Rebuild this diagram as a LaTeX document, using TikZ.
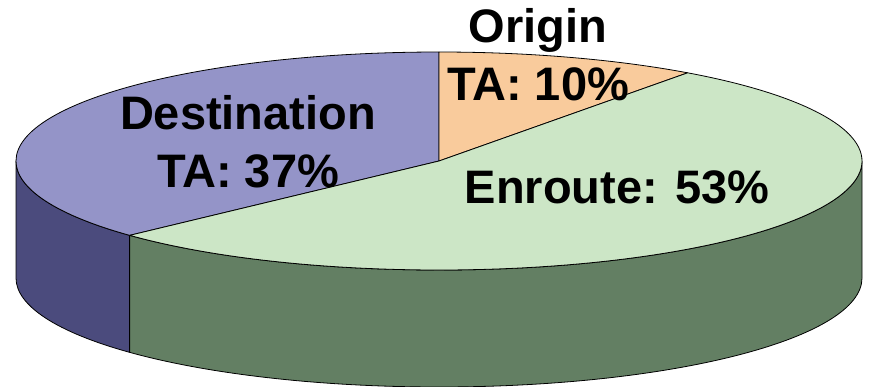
\documentclass[tikz,border=0pt]{standalone}
\usepackage{fontspec}
\setmainfont{Liberation Sans}
\usepackage{tikz}

\definecolor{destTop}{HTML}{9494C8}
\definecolor{destSide}{HTML}{4B4B7D}
\definecolor{origTop}{HTML}{F9CB9C}
\definecolor{enrTop}{HTML}{CCE6C6}
\definecolor{enrSide}{HTML}{637F63}

\begin{document}
\begin{tikzpicture}[x=1pt, y=1pt,
				   slice/.style={draw=black, line width=0.8pt, line join=round},
				   rim/.style={x radius=423, y radius=109},
				   lbl/.style={font=\fontsize{47}{58}\selectfont\bfseries, align=center, inner sep=0pt, anchor=base}]
\useasboundingbox (0,-386) rectangle (869,0);
\coordinate (c) at (439,-161);
% side walls
\draw[slice, fill=destSide] ([shift={(180:423 and 109)}]c) arc[rim, start angle=180, end angle=223]
	-- ++(0,-117) arc[rim, start angle=223, end angle=180] -- cycle;
\draw[slice, fill=enrSide] ([shift={(223:423 and 109)}]c) arc[rim, start angle=223, end angle=360]
	-- ++(0,-117) arc[rim, start angle=360, end angle=223] -- cycle;
% top slices
\draw[slice, fill=destTop] (c) -- ([shift={(90:423 and 109)}]c) arc[rim, start angle=90, end angle=223] -- cycle;
\draw[slice, fill=origTop] (c) -- ([shift={(54:423 and 109)}]c) arc[rim, start angle=54, end angle=90] -- cycle;
\draw[slice, fill=enrTop] (c) -- ([shift={(-137:423 and 109)}]c) arc[rim, start angle=-137, end angle=54] -- cycle;
% labels
\node[lbl] (dest) at (248,-187) {Destination\\TA: 37\%};
\node[lbl] (orig) at (538,-100) {Origin\\TA: 10\%};
\node[lbl] (enr) at (617,-203) {Enroute: 53\%};
\end{tikzpicture}
\end{document}
